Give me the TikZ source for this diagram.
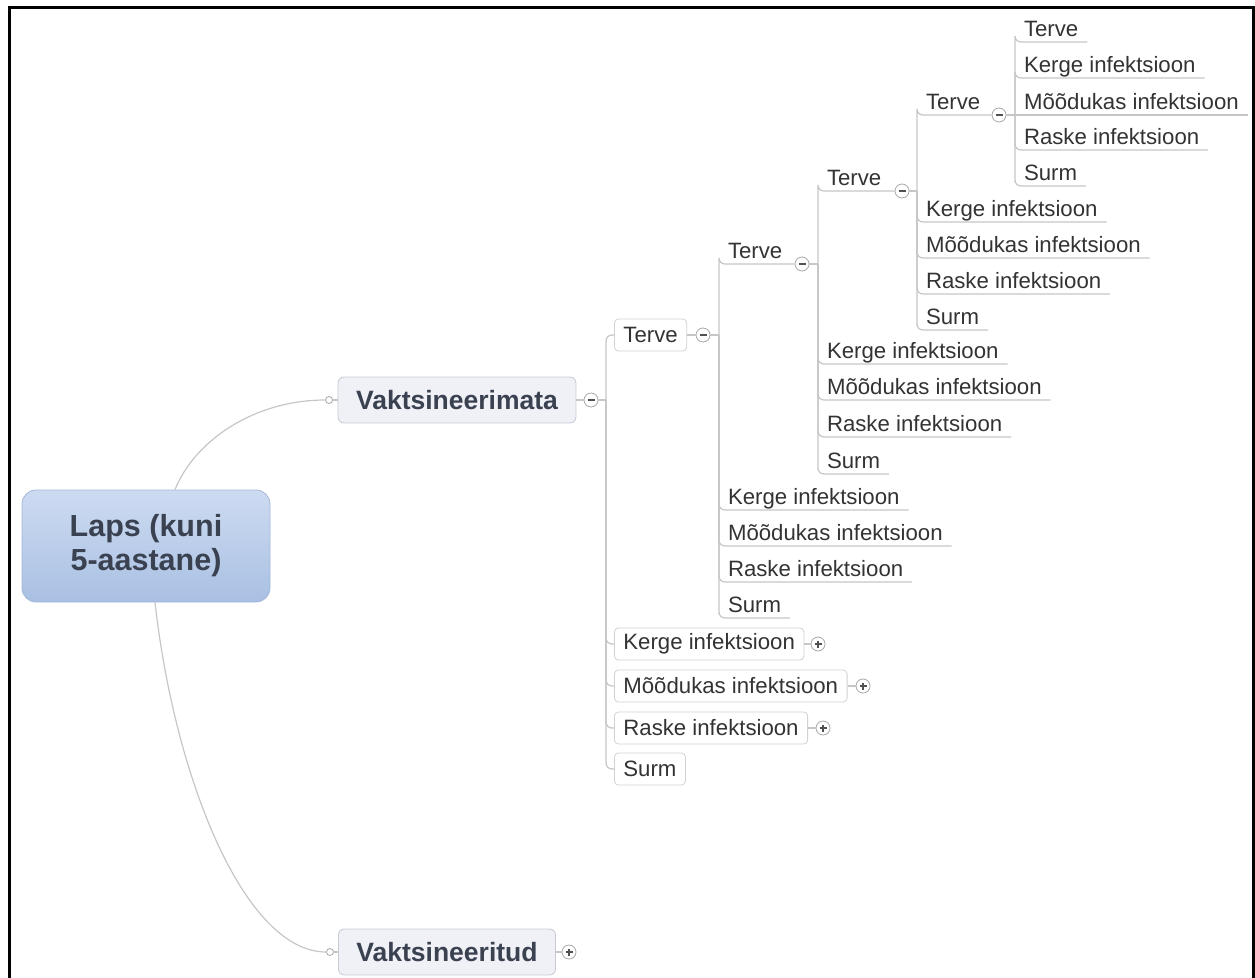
\documentclass[tikz,border=0pt]{standalone}
\usepackage{fontspec}
\setmainfont{Liberation Sans}
\usetikzlibrary{positioning}
\definecolor{linkgray}{HTML}{C6C6C6}
\definecolor{togglegray}{HTML}{A8A8A8}
\definecolor{signgray}{HTML}{505050}
\definecolor{textgray}{HTML}{333333}
\definecolor{rootTop}{HTML}{CDDBF1}
\definecolor{rootBot}{HTML}{A9C0E3}
\definecolor{rootLine}{HTML}{A3B7D8}
\definecolor{rootText}{HTML}{3A4150}
\definecolor{mainFill}{HTML}{F0F0F7}
\definecolor{mainLine}{HTML}{C8C8D6}
\definecolor{boxLine}{HTML}{D2D2D2}

\begin{document}
\begin{tikzpicture}[x=1pt, y=-1pt,
    link/.style={draw=linkgray, line width=1.2pt},
    fork/.style={link, rounded corners=6pt},
    rootbox/.style={draw=rootLine, line width=0.8pt, top color=rootTop, bottom color=rootBot,
        rounded corners=14pt, minimum width=248pt, minimum height=112pt, align=center,
        text=rootText, font=\fontsize{30.5}{34}\selectfont\bfseries},
    mainbox/.style={draw=mainLine, line width=0.8pt, fill=mainFill, rounded corners=6pt,
        minimum height=46pt, inner xsep=18pt, text=rootText,
        font=\fontsize{26.5}{30}\selectfont\bfseries},
    subbox/.style={draw=boxLine, line width=0.8pt, fill=white, rounded corners=4pt, anchor=west,
        minimum height=32pt, inner xsep=9pt, text=textgray, font=\fontsize{22.2}{26}\selectfont},
    leaf/.style={anchor=south west, inner xsep=9pt, inner ysep=0pt, outer sep=0pt,
        text depth=6pt, text=textgray, font=\fontsize{22.2}{26}\selectfont},
    toggle/.style={circle, draw=togglegray, fill=white, line width=0.8pt, minimum size=14pt, inner sep=0pt},
    fold/.style={toggle, path picture={\draw[line width=1.3pt, signgray]
        ([xshift=-3.5pt]path picture bounding box.center) -- ([xshift=3.5pt]path picture bounding box.center);}},
    unfold/.style={toggle, path picture={\draw[line width=1.3pt, signgray]
        ([xshift=-3.5pt]path picture bounding box.center) -- ([xshift=3.5pt]path picture bounding box.center)
        ([yshift=-3.5pt]path picture bounding box.center) -- ([yshift=3.5pt]path picture bounding box.center);}},
    port/.style={circle, draw=togglegray, fill=white, line width=0.8pt, minimum size=7pt, inner sep=0pt}]
    \useasboundingbox (0,0) rectangle (1255,977);
    \draw[line width=3pt] (9,995) |- (1253,7) -- (1253,995);

    % root and the two main branches
    \node[rootbox] (laps) at (146,546) {Laps (kuni\\5-aastane)};
    \node[mainbox] (vk1) at (457,400) {Vaktsineerimata};
    \node[port] (vk1in) at (329,400) {};
    \node[fold] (vk1m) at (591,400) {};
    \node[mainbox] (vk2) at (447,952) {Vaktsineeritud};
    \node[port] (vk2in) at (330,952) {};
    \node[unfold] (vk2p) at (569,952) {};
    \draw[link] ([xshift=29pt]laps.north) .. controls (195,440) and (255,400) .. (vk1in.west);
    \draw[link] ([xshift=9pt]laps.south) .. controls (175,780) and (245,952) .. (vk2in.west);
    \draw[link] (vk1in) -- (vk1.west);
    \draw[link] (vk2in) -- (vk2.west);
    \draw[link] (vk1.east) -- (vk1m.west);
    \draw[link] (vk2.east) -- (vk2p.west);

    % level 1
    \coordinate (sp1) at (606,400);
    \node[subbox] (t1) at (614,335) {Terve};
    \node[fold] (t1m) at (703,335) {};
    \node[subbox] (k1) at (614,644) {Kerge infektsioon};
    \node[unfold] (k1p) at (818,644) {};
    \node[subbox] (m1) at (614,686) {Mõõdukas infektsioon};
    \node[unfold] (m1p) at (863,686) {};
    \node[subbox] (r1) at (614,728) {Raske infektsioon};
    \node[unfold] (r1p) at (823,728) {};
    \node[subbox] (s1) at (614,769) {Surm};
    \draw[link] (vk1m.east) -- (sp1);
    \draw[fork] (sp1) |- (t1.west);
    \draw[fork] (sp1) |- (k1.west);
    \draw[fork] (sp1) |- (m1.west);
    \draw[fork] (sp1) |- (r1.west);
    \draw[fork] (sp1) |- (s1.west);
    \draw[link] (t1.east) -- (t1m.west);
    \draw[link] (k1.east) -- (k1p.west);
    \draw[link] (m1.east) -- (m1p.west);
    \draw[link] (r1.east) -- (r1p.west);

    % level 2
    \coordinate (sp2) at (719,335);
    \node[leaf] (t2) at (719,264) {Terve};
    \node[fold] (t2m) at (802,264) {};
    \node[leaf] (k2) at (719,510) {Kerge infektsioon};
    \node[leaf] (m2) at (719,546) {Mõõdukas infektsioon};
    \node[leaf] (r2) at (719,582) {Raske infektsioon};
    \node[leaf] (s2) at (719,618) {Surm};
    \draw[link] (t1m.east) -- (sp2);
    \draw[fork] (sp2) |- (t2.south west) -- (t2m.west);
    \draw[fork] (sp2) |- (k2.south west) -- (k2.south east);
    \draw[fork] (sp2) |- (m2.south west) -- (m2.south east);
    \draw[fork] (sp2) |- (r2.south west) -- (r2.south east);
    \draw[fork] (sp2) |- (s2.south west) -- (s2.south east);

    % level 3
    \coordinate (sp3) at (818,264);
    \node[leaf] (t3) at (818,191) {Terve};
    \node[fold] (t3m) at (902,191) {};
    \node[leaf] (k3) at (818,364) {Kerge infektsioon};
    \node[leaf] (m3) at (818,400) {Mõõdukas infektsioon};
    \node[leaf] (r3) at (818,437) {Raske infektsioon};
    \node[leaf] (s3) at (818,474) {Surm};
    \draw[link] (t2m.east) -- (sp3);
    \draw[fork] (sp3) |- (t3.south west) -- (t3m.west);
    \draw[fork] (sp3) |- (k3.south west) -- (k3.south east);
    \draw[fork] (sp3) |- (m3.south west) -- (m3.south east);
    \draw[fork] (sp3) |- (r3.south west) -- (r3.south east);
    \draw[fork] (sp3) |- (s3.south west) -- (s3.south east);

    % level 4
    \coordinate (sp4) at (917,191);
    \node[leaf] (t4) at (917,115) {Terve};
    \node[fold] (t4m) at (999,115) {};
    \node[leaf] (k4) at (917,222) {Kerge infektsioon};
    \node[leaf] (m4) at (917,258) {Mõõdukas infektsioon};
    \node[leaf] (r4) at (917,294) {Raske infektsioon};
    \node[leaf] (s4) at (917,330) {Surm};
    \draw[link] (t3m.east) -- (sp4);
    \draw[fork] (sp4) |- (t4.south west) -- (t4m.west);
    \draw[fork] (sp4) |- (k4.south west) -- (k4.south east);
    \draw[fork] (sp4) |- (m4.south west) -- (m4.south east);
    \draw[fork] (sp4) |- (r4.south west) -- (r4.south east);
    \draw[fork] (sp4) |- (s4.south west) -- (s4.south east);

    % level 5
    \coordinate (sp5) at (1015,115);
    \node[leaf] (t5) at (1015,42) {Terve};
    \node[leaf] (k5) at (1015,78) {Kerge infektsioon};
    \node[leaf] (m5) at (1015,115) {Mõõdukas infektsioon};
    \node[leaf] (r5) at (1015,150) {Raske infektsioon};
    \node[leaf] (s5) at (1015,186) {Surm};
    \draw[link] (t4m.east) -- (sp5);
    \draw[fork] (sp5) |- (t5.south west) -- (t5.south east);
    \draw[fork] (sp5) |- (k5.south west) -- (k5.south east);
    \draw[link] (sp5) -- (m5.south west) -- (m5.south east);
    \draw[fork] (sp5) |- (r5.south west) -- (r5.south east);
    \draw[fork] (sp5) |- (s5.south west) -- (s5.south east);
\end{tikzpicture}
\end{document}
